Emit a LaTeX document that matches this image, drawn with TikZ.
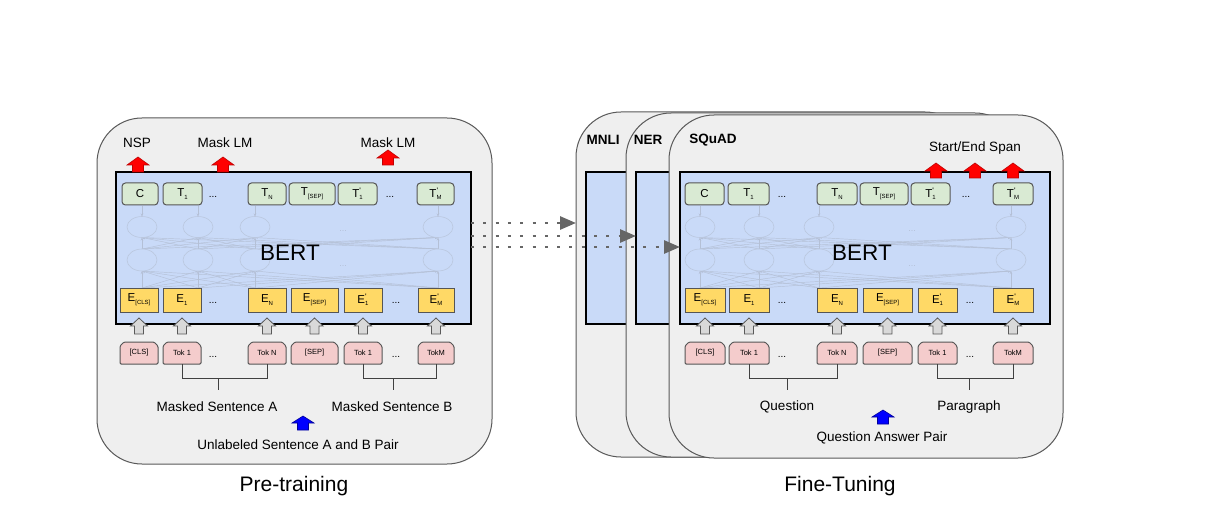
\documentclass[tikz,border=0pt]{standalone}
\usepackage{fontspec}
\setmainfont{Liberation Sans}
\usetikzlibrary{arrows.meta}

\definecolor{panelfill}{HTML}{EFEFEF}
\definecolor{paneledge}{HTML}{595959}
\definecolor{bertblue}{HTML}{C9DAF8}
\definecolor{tgreen}{HTML}{D9EAD3}
\definecolor{eyellow}{HTML}{FFD966}
\definecolor{tokpink}{HTML}{F4CCCC}
\definecolor{boxedge}{HTML}{555555}
\definecolor{netline}{HTML}{B4C0D6}
\definecolor{netedge}{HTML}{BAC7DE}
\definecolor{arrowgray}{HTML}{D9D9D9}
\definecolor{dotgray}{HTML}{666666}

% small lowered index, and lowered index with a prime above it
\newcommand\lo[1]{\raisebox{-0.45ex}{\fontsize{6}{6}\selectfont #1}}
\newcommand\lop[1]{\rlap{\raisebox{0.6ex}{\fontsize{8}{8}\selectfont\textquotesingle}}\lo{#1}}

% block arrow pointing up: style, x, tip y, half head width, head height, half shaft width, shaft length
\newcommand\blockup[7]{%
  \draw[#1] (#2,#3) -- ++(#4,#5) -- ++({-(#4)+(#6)},0) -- ++(0,#7)
    -- ++({-2*(#6)},0) -- ++(0,{-(#7)}) -- ++({-(#4)+(#6)},0) -- cycle;}

% token box with clipped top corners: left x, right x, top y, bottom y
\newcommand\tokshape[4]{%
  \filldraw[tokline] (#1,#4) -- (#1,{#3+4}) -- ({#1+4},#3) -- ({#2-4},#3) -- (#2,{#3+4}) -- (#2,#4) -- cycle;}

% faint fully connected layers inside an encoder block
\newcommand\netgrid[2]{%
  \foreach \ca in {#1} {
    \draw[netln,-{Stealth[length=3pt,width=2.5pt]}] (\ca,206) -- (\ca,216.5);
    \foreach \cb in {#1} {
      \draw[netln,-{Stealth[length=3pt,width=2.5pt]}] (\ca,249) -- (\cb,237.5);
      \draw[netln,-{Stealth[length=3pt,width=2.5pt]}] (\ca,288) -- (\cb,271);
    }
  }
  \foreach \ca in {#1} {
    \draw[netell] (\ca,227) ellipse [x radius=15pt, y radius=10.5pt];
    \draw[netell] (\ca,260) ellipse [x radius=15pt, y radius=11pt];
  }
  \node[netdots] at (#2,231) {...};
  \node[netdots] at (#2,266) {...};
}

\tikzset{
  panel/.style={draw=paneledge, fill=panelfill, line width=1pt, rounded corners=45pt, inner sep=0pt, outer sep=0pt},
  bertbox/.style={draw=black, fill=bertblue, line width=2pt, inner sep=0pt, outer sep=0pt, minimum height=152pt},
  tbox/.style={draw=boxedge, fill=tgreen, line width=1pt, rounded corners=3.5pt, minimum height=22pt, inner sep=0pt, outer sep=0pt, font=\fontsize{11.5}{12}\selectfont},
  ebox/.style={draw=boxedge, fill=eyellow, line width=1pt, minimum height=24pt, inner sep=0pt, outer sep=0pt, font=\fontsize{11.5}{12}\selectfont},
  tokline/.style={draw=boxedge, fill=tokpink, line width=1pt, rounded corners=1.2pt},
  toktext/.style={minimum height=22pt, inner sep=0pt, outer sep=0pt, font=\fontsize{7.5}{8}\selectfont},
  netln/.style={draw=netline, line width=0.45pt},
  netell/.style={draw=netedge, fill=bertblue, line width=0.6pt},
  netdots/.style={text=netline, font=\fontsize{9}{9}\selectfont, inner sep=0pt},
  rowdots/.style={font=\fontsize{10}{10}\selectfont, inner sep=0pt},
  lbl/.style={font=\fontsize{13.5}{15}\selectfont, inner sep=0pt},
  task/.style={font=\bfseries\fontsize{13.5}{15}\selectfont, inner sep=0pt},
  bertlbl/.style={font=\fontsize{22.5}{26}\selectfont, inner sep=0pt},
  caption/.style={font=\fontsize{21}{24}\selectfont, inner sep=0pt},
  redarr/.style={fill=red, draw=red!75!black, line width=0.6pt},
  bluearr/.style={fill=blue, draw=blue!60!black, line width=0.6pt},
  grayarr/.style={fill=arrowgray, draw=paneledge, line width=0.8pt},
  brk/.style={draw=black!75, line width=1pt},
  dotarr/.style={draw=dotgray, line width=2.8pt, dash pattern=on 3pt off 9.3pt,
    -{Triangle[length=16pt,width=13pt,fill=dotgray]}},
}

\begin{document}
\begin{tikzpicture}[x=1pt,y=-1pt]
\fill[white] (0,0) rectangle (1211,524);
\useasboundingbox (0,0) rectangle (1211,524);

%% ---------------- Pre-training ----------------
\node[panel, minimum width=395pt, minimum height=346pt] (pPre) at (294.5,291) {};
\node[bertbox, minimum width=355pt] (bertL) at (293.5,248) {};
\netgrid{142,198,255,438}{343}
\node[bertlbl] (bertLtxt) at (290,253) {BERT};

\foreach \n/\a/\b/\t in {lT0/122/158/C, lT1/163/202/{T\lo{1}}, lT2/248/286/{T\lo{N}},
    lT3/289/335/{T\lo{[SEP]}}, lT4/338/377/{T\lop{1}}, lT5/417/454/{T\lop{M}}}
  {\node[tbox, minimum width={(\b-\a)*1pt}] (\n) at ({(\a+\b)/2},194) {\t};}
\foreach \n/\a/\b/\t in {lE0/120/158/{E\lo{[CLS]}}, lE1/163/201/{E\lo{1}}, lE2/248/286/{E\lo{N}},
    lE3/291/338/{E\lo{[SEP]}}, lE4/344/382/{E\lop{1}}, lE5/418/454/{E\lop{M}}}
  {\node[ebox, minimum width={(\b-\a)*1pt}] (\n) at ({(\a+\b)/2},300) {\t};}
\foreach \n/\a/\b/\t in {lK0/120/158/{[CLS]}, lK1/163/201/{Tok 1}, lK2/248/286/{Tok N},
    lK3/291/338/{[SEP]}, lK4/344/382/{Tok 1}, lK5/418/454/{TokM}}
  {\tokshape{\a}{\b}{342}{364}
   \node[toktext, minimum width={(\b-\a)*1pt}] (\n) at ({(\a+\b)/2},353) {\t};}

\node[rowdots] (ldT1) at (213,197) {...};
\node[rowdots] (ldT2) at (390,197) {...};
\node[rowdots] (ldE1) at (213,303) {...};
\node[rowdots] (ldE2) at (396,303) {...};
\node[rowdots] (ldK1) at (213,357) {...};
\node[rowdots] (ldK2) at (396,357) {...};

\foreach \x in {139,182,267,314.5,363,436}
  {\blockup{grayarr}{\x}{318}{8.5}{8}{4.5}{8}}

\blockup{redarr}{138}{157}{11}{8}{5.5}{7}
\blockup{redarr}{223}{157}{11}{8}{5.5}{7}
\blockup{redarr}{388}{150}{11}{8}{5.5}{7}
\node[lbl] (nsp) at (137,143) {NSP};
\node[lbl] (mlmA) at (225,143) {Mask LM};
\node[lbl] (mlmB) at (388,143) {Mask LM};

\draw[brk] (lK1.south) -- ++(0,14) -| (lK2.south);
\draw[brk] (lK4.south) -- ++(0,14) -| (lK5.south);
\coordinate (tickA) at (218,378);
\coordinate (tickB) at (393,378);
\draw[brk] (tickA) -- ++(0,12);
\draw[brk] (tickB) -- ++(0,12);
\node[lbl] (sentA) at (217,407) {Masked Sentence A};
\node[lbl] (sentB) at (392,407) {Masked Sentence B};
\blockup{bluearr}{303}{416}{11}{7}{5.5}{7}
\node[lbl] (pairL) at (298,445) {Unlabeled Sentence A and B Pair};
\node[caption] (capPre) at (294,486) {Pre-training};

%% ---------------- Fine-Tuning ----------------
\node[panel, minimum width=394pt, minimum height=345pt] (pMNLI) at (773,284.5) {};
\node[bertbox, minimum width=370pt] (bMNLI) at (771,248) {};
\node[task] (tMNLI) at (603,140) {MNLI};
\node[panel, minimum width=394pt, minimum height=344pt] (pNER) at (823,285) {};
\node[bertbox, minimum width=370pt] (bNER) at (821,248) {};
\node[task] (tNER) at (648,140) {NER};
\node[panel, minimum width=394pt, minimum height=343pt] (pSQ) at (866,286.5) {};
\node[bertbox, minimum width=370pt] (bSQ) at (865,248) {};
\node[task] (tSQ) at (713,140) {SQuAD};
\netgrid{700,759,819,1011}{912}
\node[bertlbl] (bertRtxt) at (862,253) {BERT};

\foreach \n/\a/\b/\t in {rT0/685/724/C, rT1/728/769/{T\lo{1}}, rT2/817/857/{T\lo{N}},
    rT3/860/908/{T\lo{[SEP]}}, rT4/911/950/{T\lop{1}}, rT5/993/1033/{T\lop{M}}}
  {\node[tbox, minimum width={(\b-\a)*1pt}] (\n) at ({(\a+\b)/2},194) {\t};}
\foreach \n/\a/\b/\t in {rE0/685/725/{E\lo{[CLS]}}, rE1/729/769/{E\lo{1}}, rE2/817/857/{E\lo{N}},
    rE3/863/912/{E\lo{[SEP]}}, rE4/918/957/{E\lop{1}}, rE5/993/1033/{E\lop{M}}}
  {\node[ebox, minimum width={(\b-\a)*1pt}] (\n) at ({(\a+\b)/2},300) {\t};}
\foreach \n/\a/\b/\t in {rK0/685/725/{[CLS]}, rK1/729/769/{Tok 1}, rK2/817/857/{Tok N},
    rK3/863/912/{[SEP]}, rK4/918/957/{Tok 1}, rK5/993/1033/{TokM}}
  {\tokshape{\a}{\b}{342}{364}
   \node[toktext, minimum width={(\b-\a)*1pt}] (\n) at ({(\a+\b)/2},353) {\t};}

\node[rowdots] (rdT1) at (782,197) {...};
\node[rowdots] (rdT2) at (966,197) {...};
\node[rowdots] (rdE1) at (782,303) {...};
\node[rowdots] (rdE2) at (970,303) {...};
\node[rowdots] (rdK1) at (782,357) {...};
\node[rowdots] (rdK2) at (970,357) {...};

\foreach \x in {705,749,837,887.5,937.5,1013}
  {\blockup{grayarr}{\x}{318}{8.5}{8}{4.5}{8}}

\blockup{redarr}{936}{163}{11}{8}{5.5}{7}
\blockup{redarr}{975}{163}{11}{8}{5.5}{7}
\blockup{redarr}{1013}{163}{11}{8}{5.5}{7}
\node[lbl] (span) at (975,148) {Start/End Span};

\draw[brk] (rK1.south) -- ++(0,14) -| (rK2.south);
\draw[brk] (rK4.south) -- ++(0,14) -| (rK5.south);
\coordinate (tickQ) at (787,378);
\coordinate (tickP) at (969,378);
\draw[brk] (tickQ) -- ++(0,12);
\draw[brk] (tickP) -- ++(0,12);
\node[lbl] (quest) at (787,407) {Question};
\node[lbl] (para) at (969,407) {Paragraph};
\blockup{bluearr}{883}{410}{11}{7}{5.5}{7}
\node[lbl] (pairR) at (882,438) {Question Answer Pair};
\node[caption] (capFine) at (840,486) {Fine-Tuning};

%% ---------------- transfer of the pre-trained weights ----------------
\draw[dotarr] (bertL.east |- 0,223) -- (pMNLI.west |- 0,223);
\draw[dotarr] (bertL.east |- 0,236) -- (bNER.west |- 0,236);
\draw[dotarr] (bertL.east |- 0,247) -- (bSQ.west |- 0,247);
\end{tikzpicture}
\end{document}
